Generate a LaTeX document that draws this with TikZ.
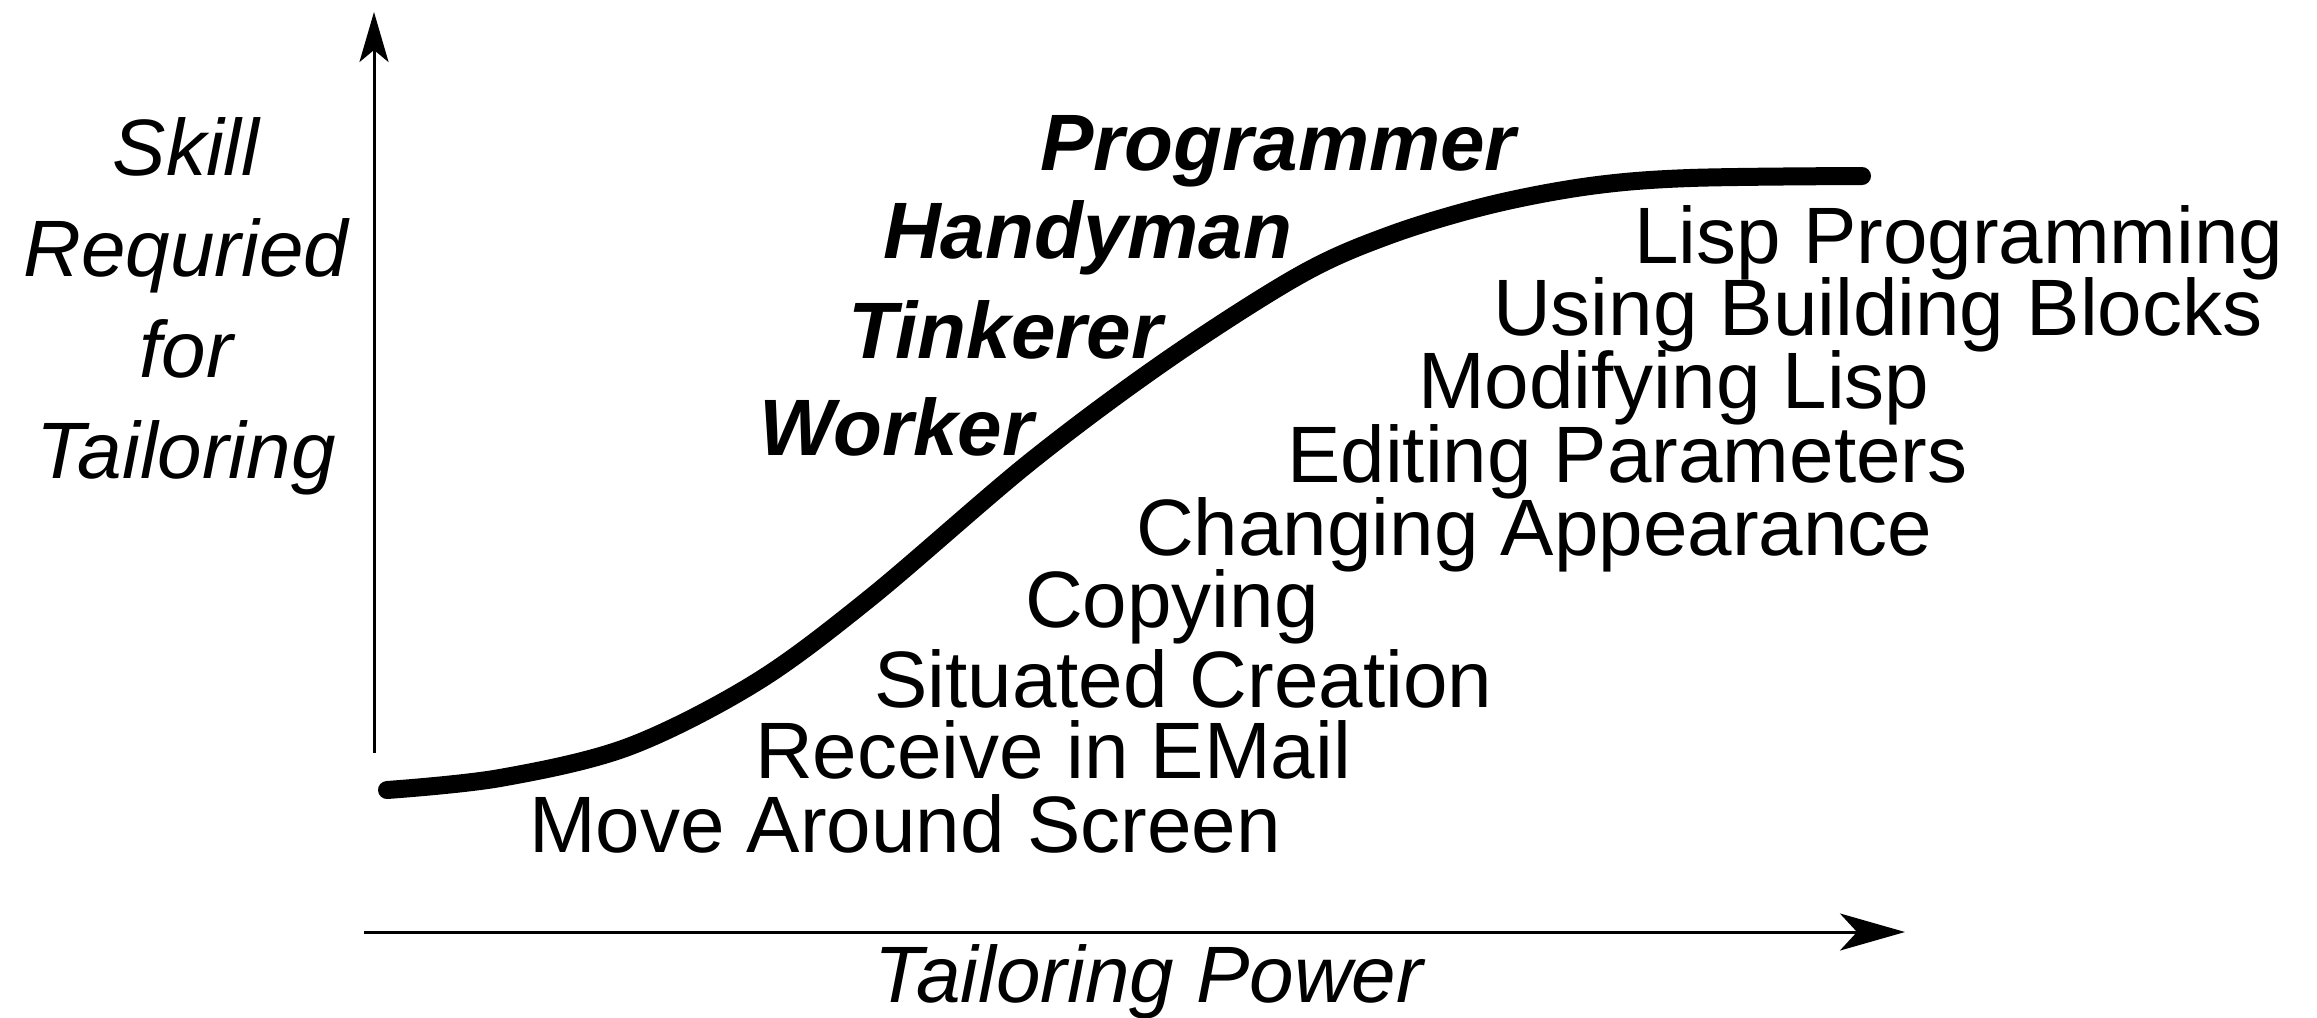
\documentclass[tikz,border=0pt]{standalone}
\usepackage{fontspec}
\setmainfont{Liberation Sans}
\usetikzlibrary{arrows.meta}
\begin{document}
\begin{tikzpicture}[x=1pt,y=-1pt,
  axis/.style={line width=3pt},
  level/.style={inner sep=0pt, anchor=base west, font=\fontsize{80}{96}\selectfont},
  role/.style={inner sep=0pt, anchor=base west, font=\fontsize{80}{96}\selectfont\bfseries\itshape},
  axislabel/.style={inner sep=0pt, anchor=base, font=\fontsize{80}{101}\selectfont\itshape, align=center},
  curve/.style={line width=18pt, line cap=round, line join=round},
]
\useasboundingbox (0,0) rectangle (2317,1017);

% axes
\coordinate (ybot) at (374,753);
\coordinate (ytop) at (374,12);
\coordinate (xleft) at (364,932);
\coordinate (xright) at (1905,932);
\draw[axis, -{Stealth[length=50pt,width=29pt,inset=12pt]}] (ybot) -- (ytop);
\draw[axis, -{Stealth[length=65pt,width=37pt,inset=17pt]}] (xleft) -- (xright);

% axis titles (base anchor sits on the last line)
\node[axislabel] (skill) at (186,478) {Skill\\Requried\\for\\Tailoring};
\node[axislabel] (power) at (1149,1002) {Tailoring Power};

% the S-shaped skill curve
\draw[curve] plot[smooth, tension=0.55] coordinates {
  (387,790) (500,778) (628,747) (755,683) (870,598) (1030,462)
  (1167,360) (1300,275) (1390,235) (1490,205) (1590,186) (1690,178) (1862,176)};

% user roles above the curve
\node[role] (programmer) at (1040,170) {Programmer};
\node[role] (handyman) at (883,258) {Handyman};
\node[role] (tinkerer) at (848,358) {Tinkerer};
\node[role] (worker) at (759,455) {Worker};

% tailoring activities below the curve
\node[level] (lisp) at (1634,263) {Lisp Programming};
\node[level] (blocks) at (1493,335) {Using Building Blocks};
\node[level] (modlisp) at (1418,408) {Modifying Lisp};
\node[level] (params) at (1287,482) {Editing Parameters};
\node[level] (appear) at (1136,555) {Changing Appearance};
\node[level] (copy) at (1025,627) {Copying};
\node[level] (situated) at (874,707) {Situated Creation};
\node[level] (email) at (755,778) {Receive in EMail};
\node[level] (move) at (529,852) {Move Around Screen};
\end{tikzpicture}
\end{document}
